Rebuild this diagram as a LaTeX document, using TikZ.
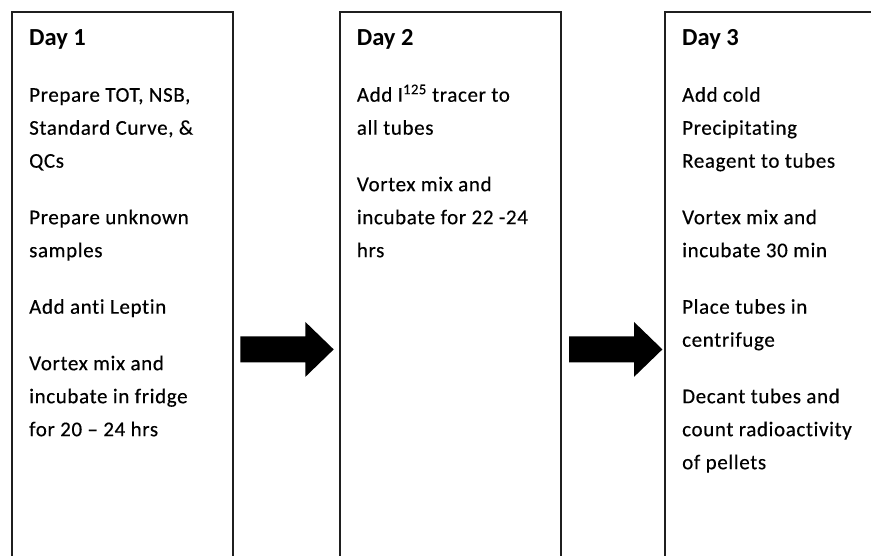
\documentclass[tikz,border=0pt]{standalone}
\usepackage{fontspec}
\setmainfont{Carlito}[Ligatures={TeX,NoCommon}]
\usetikzlibrary{calc}
\newcommand{\bodyfont}{\addfontfeature{LetterSpace=3,FakeBold=0.4}\fontsize{21}{33}\selectfont}
\begin{document}
\begin{tikzpicture}[x=1pt,y=-1pt,
  daybox/.style={draw=black!88, line width=1.8pt, minimum width=221pt,
    minimum height=676pt, inner sep=0pt, anchor=north west},
  dayhead/.style={anchor=base west, inner sep=0pt,
    font=\fontsize{24.5}{30}\selectfont\bfseries},
  % multi-line nodes are placed by the baseline of their last line
  daytext/.style={anchor=base west, inner sep=0pt, align=left, font=\bodyfont},
  blockarrow/.pic={\fill[black] (0,-13) -- (65,-13) -- (65,-27.5) -- (93.4,0)
    -- (65,27.5) -- (65,13) -- (0,13) -- cycle;}]
\useasboundingbox (0,0) rectangle (871,555);

% the three day columns (open at the bottom of the page)
\node[daybox] (d1) at (11,11) {};
\node[daybox] (d2) at (338.7,11) {};
\node[daybox] (d3) at (664,11) {};

% headings
\node[dayhead] (h1) at ($(d1.north west)+(18,34.7)$) {Day 1};
\node[dayhead] (h2) at ($(d2.north west)+(18,34.7)$) {Day 2};
\node[dayhead] (h3) at ($(d3.north west)+(18,34.7)$) {Day 3};

% steps of each day: first baseline 90.7 below the top, 33pt per line,
% 23.5pt extra between steps
\node[daytext] (t1) at ($(d1.north west)+(18,425.2)$) {Prepare TOT, NSB,\\ Standard Curve, \&\\ QCs\\[23.5pt]
  Prepare unknown\\ samples\\[23.5pt]
  Add anti Leptin\\[23.5pt]
  Vortex mix and\\ incubate in fridge\\ for 20 -- 24 hrs};
\node[daytext] (t2) at ($(d2.north west)+(18,246.2)$) {Add I\textsuperscript{125} tracer to\\ all tubes\\[23.5pt]
  Vortex mix and\\ incubate for 22 -24\\ hrs};
\node[daytext] (t3) at ($(d3.north west)+(18,458.2)$) {Add cold\\ Precipitating\\ Reagent to tubes\\[23.5pt]
  Vortex mix and\\ incubate 30 min\\[23.5pt]
  Place tubes in\\ centrifuge\\[23.5pt]
  Decant tubes and\\ count radioactivity\\ of pellets};

% block arrows between the days
\pic (a1) at ($(d1.east)+(6.5,-0.5)$) {blockarrow};
\pic (a2) at ($(d2.east)+(7.5,-0.5)$) {blockarrow};
\end{tikzpicture}
\end{document}
